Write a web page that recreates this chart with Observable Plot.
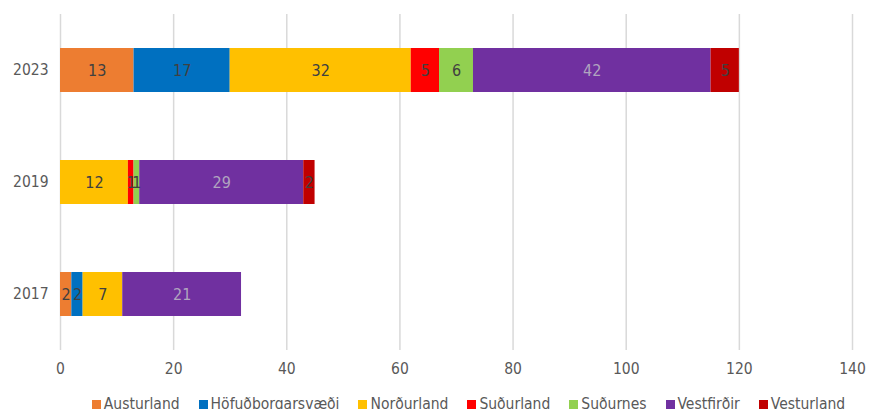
<!DOCTYPE html>
<html>
<head>
<meta charset="utf-8">
<script src="https://cdn.jsdelivr.net/npm/d3@7"></script>
<script src="https://cdn.jsdelivr.net/npm/@observablehq/plot@0.6"></script>
<style>
  html, body { margin: 0; padding: 0; background: #fff; overflow: hidden; }
  body { width: 869px; height: 409px; font-family: "Liberation Sans Narrow", "DejaVu Sans Condensed", "Liberation Sans", sans-serif; }
  #legend { display: flex; justify-content: center; gap: 19px; margin-top: 10px; margin-left: 68px; font-size: 15.5px; color: #595959; line-height: 18px; white-space: nowrap; }
  #legend span.sw { display: inline-block; width: 9px; height: 9px; margin-right: 3px; }
</style>
</head>
<body>
<div id="chart"></div>
<div id="legend"></div>
<script>
const years = ["2023", "2019", "2017"];
const regions = ["Austurland", "Höfuðborgarsvæði", "Norðurland", "Suðurland", "Suðurnes", "Vestfirðir", "Vesturland"];
const colors = ["#ED7D31", "#0070C0", "#FFC000", "#FF0000", "#92D050", "#7030A0", "#C00000"];
const values2023 = [13, 17, 32, 5, 6, 42, 5];
const values2019 = [0, 0, 12, 1, 1, 29, 2];
const values2017 = [2, 2, 7, 0, 0, 21, 0];
const xTicks = [0, 20, 40, 60, 80, 100, 120, 140];

const series = {"2023": values2023, "2019": values2019, "2017": values2017};
const data = [];
for (const y of years) {
  series[y].forEach((v, i) => { if (v > 0) data.push({year: y, region: regions[i], value: v}); });
}

const chart = Plot.plot({
  width: 869,
  height: 385,
  marginLeft: 60,
  marginRight: 17,
  marginTop: 14,
  marginBottom: 35,
  style: { fontFamily: '"Liberation Sans Narrow", "DejaVu Sans Condensed", sans-serif', fontSize: "15.5px", color: "#595959" },
  x: { domain: [0, 140], ticks: xTicks, tickSize: 0, tickPadding: 12, label: null, grid: false },
  y: { domain: years, paddingInner: 0.607, paddingOuter: 0.3035, tickSize: 0, tickPadding: 12, label: null },
  color: { domain: regions, range: colors },
  marks: [
    Plot.ruleX(xTicks, { stroke: "#d9d9d9", strokeWidth: 1.5 }),
    Plot.barX(data, Plot.stackX({ x: "value", y: "year", fill: "region", order: regions })),
    Plot.text(data, Plot.stackX({ x: "value", y: "year", z: "region", order: regions, text: "value",
      fill: d => d.region === "Vestfirðir" ? "#b0a4bf" : "#404040", fontSize: 16 }))
  ]
});
document.getElementById("chart").appendChild(chart);

const legend = document.getElementById("legend");
regions.forEach((r, i) => {
  const item = document.createElement("div");
  item.innerHTML = `<span class="sw" style="background:${colors[i]}"></span>${r}`;
  legend.appendChild(item);
});
</script>
</body>
</html>
